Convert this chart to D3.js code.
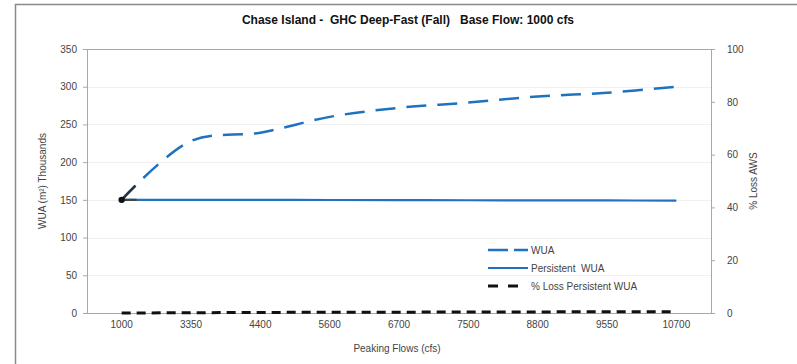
<!DOCTYPE html>
<html>
<head>
<meta charset="utf-8">
<script src="https://cdn.jsdelivr.net/npm/d3@7"></script>
<style>
  html, body { margin: 0; padding: 0; background: #fff; }
  svg { display: block; font-family: "Liberation Sans", Arial, sans-serif; }
</style>
</head>
<body>
<svg id="chart" width="797" height="364"></svg>
<script>
// Peaking flow scenarios (cfs)
const flows = ["1000", "3350", "4400", "5600", "6700", "7500", "8800", "9550", "10700"];
// Weighted usable area, thousands of m²
const wua = [150, 228, 239, 260, 272, 279, 287, 292, 300];
const persistentWua = [150, 150, 150, 149.8, 149.6, 149.5, 149.3, 149.2, 149];
// Percent loss of persistent WUA (right axis)
const pctLoss = [0, 0.1, 0.2, 0.3, 0.3, 0.4, 0.4, 0.5, 0.5];

const leftTicks = [0, 50, 100, 150, 200, 250, 300, 350];
const rightTicks = [0, 20, 40, 60, 80, 100];

const svg = d3.select("#chart");
const m = { left: 87, top: 49, right: 711, bottom: 313 };
const font = "Liberation Sans, Arial, sans-serif";

// outer chart frame
svg.append("rect").attr("x", 15.5).attr("y", 4.5).attr("width", 800).attr("height", 400)
  .attr("fill", "none").attr("stroke", "#8a8a8a").attr("stroke-width", 1.5);

const x = d3.scaleBand().domain(flows).range([m.left, m.right]);
const xc = d => x(d) + x.bandwidth() / 2;
const yL = d3.scaleLinear().domain([0, 350]).range([m.bottom, m.top]);
const yR = d3.scaleLinear().domain([0, 100]).range([m.bottom, m.top]);

// light horizontal gridlines
svg.append("g").selectAll("line").data(leftTicks.filter(t => t > 0 && t < 350)).join("line")
  .attr("x1", m.left).attr("x2", m.right)
  .attr("y1", d => Math.round(yL(d)) + 0.5).attr("y2", d => Math.round(yL(d)) + 0.5)
  .attr("stroke", "#f0f0f0").attr("stroke-width", 1);

// plot frame
const frame = "#a8a8a8";
svg.append("line").attr("x1", m.left).attr("x2", m.right).attr("y1", m.top + 0.5).attr("y2", m.top + 0.5).attr("stroke", frame);
svg.append("line").attr("x1", m.left + 0.5).attr("x2", m.left + 0.5).attr("y1", m.top).attr("y2", m.bottom).attr("stroke", frame);
svg.append("line").attr("x1", m.right + 0.5).attr("x2", m.right + 0.5).attr("y1", m.top).attr("y2", m.bottom).attr("stroke", frame);
svg.append("line").attr("x1", m.left).attr("x2", m.right).attr("y1", m.bottom + 0.5).attr("y2", m.bottom + 0.5).attr("stroke", frame);

// left axis
const axL = svg.append("g").attr("transform", `translate(${m.left},0)`)
  .call(d3.axisLeft(yL).tickValues(leftTicks).tickSize(4).tickPadding(6));
axL.select(".domain").remove();
axL.selectAll(".tick line").attr("stroke", frame);
axL.selectAll("text").attr("fill", "#444").attr("font-size", 10).attr("font-family", font);

// right axis
const axR = svg.append("g").attr("transform", `translate(${m.right},0)`)
  .call(d3.axisRight(yR).tickValues(rightTicks).tickSize(4).tickPadding(12));
axR.select(".domain").remove();
axR.selectAll(".tick line").attr("stroke", frame);
axR.selectAll("text").attr("fill", "#444").attr("font-size", 10).attr("font-family", font);

// bottom axis labels
const axB = svg.append("g").attr("transform", `translate(0,${m.bottom})`)
  .call(d3.axisBottom(x).tickSize(0).tickPadding(8));
axB.select(".domain").remove();
axB.selectAll("text").attr("fill", "#444").attr("font-size", 10).attr("font-family", font);

// titles
svg.append("text").attr("x", 408).attr("y", 24).attr("text-anchor", "middle")
  .attr("font-size", 12).attr("font-weight", "bold").attr("fill", "#111")
  .attr("xml:space", "preserve")
  .text("Chase Island -  GHC Deep-Fast (Fall)   Base Flow: 1000 cfs");
svg.append("text").attr("x", 397).attr("y", 352).attr("text-anchor", "middle")
  .attr("font-size", 10).attr("fill", "#444").text("Peaking Flows (cfs)");
svg.append("text").attr("transform", "translate(46,181) rotate(-90)").attr("text-anchor", "middle")
  .attr("font-size", 10).attr("fill", "#444").text("WUA (m²) Thousands");
svg.append("text").attr("transform", "translate(757,181) rotate(-90)").attr("text-anchor", "middle")
  .attr("font-size", 10).attr("fill", "#444").text("% Loss AWS");

const blue = "#1f72bf";
const smooth = d3.line().x((d, i) => xc(flows[i])).y(d => yL(d)).curve(d3.curveCatmullRom.alpha(0.5));
const lineR = d3.line().x((d, i) => xc(flows[i])).y(d => yR(d));

// % loss (right axis)
svg.append("path").attr("d", lineR(pctLoss)).attr("fill", "none")
  .attr("stroke", "#111").attr("stroke-width", 3).attr("stroke-dasharray", "9,6");

// persistent WUA
svg.append("path").attr("d", smooth(persistentWua)).attr("fill", "none")
  .attr("stroke", blue).attr("stroke-width", 2.2);

// WUA
svg.append("path").attr("d", smooth(wua)).attr("fill", "none")
  .attr("stroke", blue).attr("stroke-width", 2.5).attr("stroke-dasharray", "20,11");

// base-flow start segment drawn darker over the first few pixels
const clip = svg.append("clipPath").attr("id", "startClip");
clip.append("rect").attr("x", xc(flows[0])).attr("y", m.top).attr("width", 15).attr("height", m.bottom - m.top);
const startG = svg.append("g").attr("clip-path", "url(#startClip)");
startG.append("path").attr("d", smooth(persistentWua)).attr("fill", "none")
  .attr("stroke", "#444").attr("stroke-width", 2.2);
startG.append("path").attr("d", smooth(wua)).attr("fill", "none")
  .attr("stroke", "#333").attr("stroke-width", 2.5).attr("stroke-dasharray", "20,11");

// base-flow point
svg.append("circle").attr("cx", xc(flows[0])).attr("cy", yL(wua[0])).attr("r", 3.2).attr("fill", "#111");

// legend
const legend = [
  { name: "WUA", color: blue, dash: "20,6", w: 2.5 },
  { name: "Persistent  WUA", color: blue, dash: null, w: 2.2 },
  { name: "% Loss Persistent WUA", color: "#111", dash: "10,10", w: 3 }
];
const lg = svg.append("g").attr("transform", "translate(488,250)");
legend.forEach((d, i) => {
  const g = lg.append("g").attr("transform", `translate(0,${i * 18})`);
  g.append("line").attr("x1", 0).attr("x2", 40).attr("y1", 0).attr("y2", 0)
    .attr("stroke", d.color).attr("stroke-width", d.w)
    .attr("stroke-dasharray", d.dash);
  g.append("text").attr("x", 43).attr("y", 3.5).attr("font-size", 10).attr("fill", "#444")
    .attr("xml:space", "preserve").text(d.name);
});
</script>
</body>
</html>
